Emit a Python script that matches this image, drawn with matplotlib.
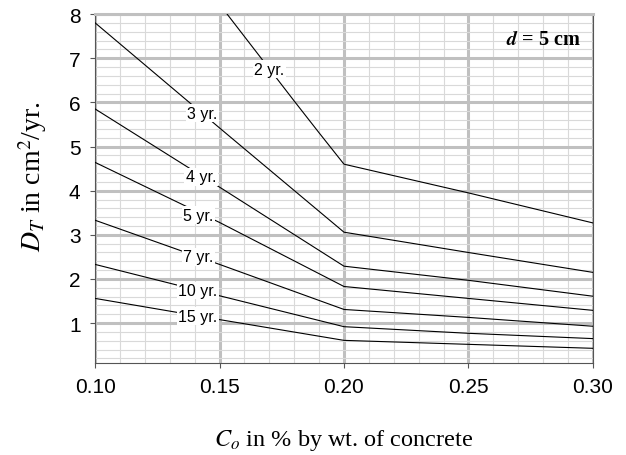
import numpy as np
import matplotlib
matplotlib.use('Agg')
import matplotlib.pyplot as plt
from matplotlib.ticker import MultipleLocator

plt.rcParams['mathtext.fontset'] = 'stix'

# C_o values (% by wt. of concrete)
co = [0.10, 0.15, 0.20, 0.25, 0.30]
co_2yr = [0.15, 0.16, 0.17, 0.18, 0.19, 0.20, 0.25, 0.30]

# D_T values (cm^2/yr)
dt_2yr = [8.22, 7.49, 6.76, 6.03, 5.31, 4.60, 3.95, 3.27]
dt_3yr = [7.80, 5.42, 3.06, 2.60, 2.15]
dt_4yr = [5.85, 4.08, 2.29, 1.97, 1.61]
dt_5yr = [4.64, 3.28, 1.83, 1.56, 1.29]
dt_7yr = [3.33, 2.33, 1.31, 1.13, 0.93]
dt_10yr = [2.33, 1.62, 0.92, 0.77, 0.65]
dt_15yr = [1.56, 1.08, 0.61, 0.52, 0.43]

labels = ['2 yr.', '3 yr.', '4 yr.', '5 yr.', '7 yr.', '10 yr.', '15 yr.']
label_x = [0.1699, 0.143, 0.1426, 0.1416, 0.1414, 0.1412, 0.1412]
label_y = [6.75, 5.755, 4.315, 3.44, 2.50, 1.74, 1.16]

fig = plt.figure(figsize=(6.26, 4.56), dpi=100)
ax = fig.add_axes([0.152, 0.202, 0.795, 0.765])

ax.plot(co_2yr, dt_2yr, color='black', lw=0.8, zorder=3)
for ys in [dt_3yr, dt_4yr, dt_5yr, dt_7yr, dt_10yr, dt_15yr]:
    ax.plot(co, ys, color='black', lw=0.8, zorder=3)

for lab, lx, ly in zip(labels, label_x, label_y):
    ax.text(lx, ly, lab, fontsize=11.5, family='Liberation Sans', ha='center', va='center',
            bbox=dict(facecolor='white', edgecolor='none', pad=1.0), zorder=4)

ax.text(0.2952, 7.43, r'$\boldsymbol{d}$ = 5 cm', fontsize=14.5, family='Liberation Serif',
        fontweight='bold', ha='right', va='center', zorder=4)

ax.set_xlim(0.10, 0.30)
ax.set_ylim(0.1, 8)
ax.xaxis.set_minor_locator(MultipleLocator(0.01))
ax.yaxis.set_minor_locator(MultipleLocator(0.2))
ax.set_xticks([0.10, 0.15, 0.20, 0.25, 0.30])
ax.set_xticklabels(['0.10', '0.15', '0.20', '0.25', '0.30'])
ax.set_yticks([1, 2, 3, 4, 5, 6, 7, 8])

ax.grid(which='major', color='#c0c0c0', lw=2.2, zorder=1)
ax.grid(which='minor', color='#d9d9d9', lw=0.8, zorder=0)
ax.set_axisbelow(True)

ax.tick_params(which='major', direction='out', length=3.5, color='#555555', labelsize=15, pad=7)
ax.tick_params(which='minor', length=0)
for lbl in ax.get_xticklabels() + ax.get_yticklabels():
    lbl.set_family('Liberation Sans')
for s in ['left', 'bottom', 'right']:
    ax.spines[s].set_color('#555555')
    ax.spines[s].set_linewidth(0.8)
ax.spines['top'].set_color('#c0c0c0')
ax.spines['top'].set_linewidth(2.2)

# axis titles placed in figure coords
fig.text(344 / 626, 1 - 441 / 456, r'$C_o$ in % by wt. of concrete', fontsize=17.5,
         family='Liberation Serif', ha='center', va='center')
fig.text(33 / 626, 1 - 177 / 456, r'$D_T$ in cm$^2$/yr.', fontsize=20,
         family='Liberation Serif', ha='center', va='center', rotation=90)

fig.savefig('out.png', dpi=100)
